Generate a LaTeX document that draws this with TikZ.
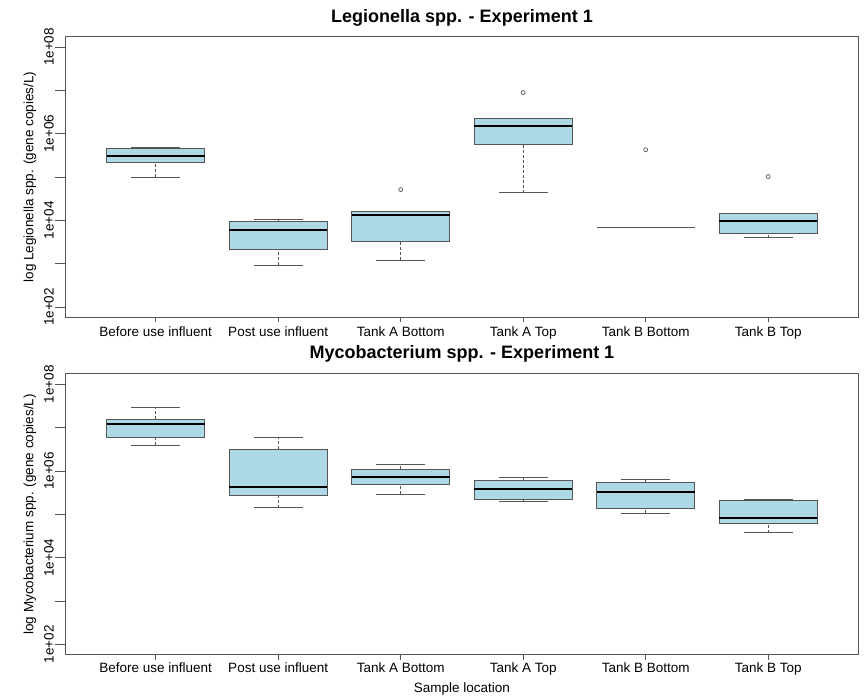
\documentclass[tikz,border=0pt]{standalone}
\usepackage{fontspec}
\setmainfont{Liberation Sans}
\usepackage{tikz}
\usetikzlibrary{positioning}
\definecolor{boxblue}{HTML}{ADD8E6}
\definecolor{axisgray}{RGB}{85,85,85}

\tikzset{
  plotframe/.style={draw=axisgray, line width=1pt},
  whisk/.style={draw=axisgray, line width=0.8pt, dash pattern=on 3pt off 2pt},
  capline/.style={draw=axisgray, line width=0.9pt},
  boxfill/.style={fill=boxblue, draw=axisgray, line width=1pt},
  medline/.style={draw=black, line width=2.4pt},
  outpt/.style={draw=axisgray, line width=0.7pt},
  ticklab/.style={font=\fontsize{13.5}{15}\selectfont, inner sep=0pt},
  ttl/.style={font=\fontsize{18}{20}\selectfont\bfseries, inner sep=0pt}
}

\begin{document}
\begin{tikzpicture}[x=1pt,y=1pt]
    \useasboundingbox (0,0) rectangle (864,698);

    % TOP: Legionella
    \begin{scope}[shift={(33.15pt,304.33pt)}, x=122.5pt, y=43.33pt]
        \draw[plotframe] (0.26,1.76) rectangle (6.74,8.24);
        % Axis ticks
        \foreach \dec in {2,...,8} {
            \draw[capline] (0.26,\dec) -- ++(-10pt,0);
        }
        \foreach \dec in {2,4,6,8} {
            \node[ticklab, rotate=90] (leg-y\dec) at ([xshift=-16pt]0.26,\dec) {1e+0\dec};
        }
        \foreach \pos/\lab in {1/Before use influent, 2/Post use influent, 3/Tank A Bottom, 4/Tank A Top, 5/Tank B Bottom, 6/Tank B Top} {
            \draw[capline] (\pos,1.76) -- ++(0,-5pt);
            \node[ticklab, anchor=base] (leg-x\pos) at ([yshift=-19pt]\pos,1.76) {\lab};
        }
        % Boxes (lower, q1, median, q3, upper)
        \foreach \pos/\lw/\qa/\md/\qb/\uw in {1/4.99/5.33/5.49/5.66/5.69, 2/2.96/3.33/3.78/3.98/4.01, 3/3.08/3.52/4.13/4.21/4.21, 4/4.64/5.74/6.18/6.35/6.35, 6/3.60/3.70/3.99/4.16/4.16} {
            \draw[whisk] (\pos,\lw) -- (\pos,\qa) (\pos,\qb) -- (\pos,\uw);
            \draw[capline] (\pos-0.2,\lw) -- (\pos+0.2,\lw) (\pos-0.2,\uw) -- (\pos+0.2,\uw);
            \filldraw[boxfill] (\pos-0.4,\qa) rectangle (\pos+0.4,\qb);
            \draw[medline] (\pos-0.4,\md) -- (\pos+0.4,\md);
        }
        \draw[capline] (4.6,3.84) -- (5.4,3.84); % flat box
        % Outliers
        \foreach \pos/\v in {3/4.71, 4/6.95, 5/5.63, 6/5.01} {
            \draw[outpt] (\pos,\v) circle (2pt);
        }
        \node[ttl, anchor=base] (leg-ttl) at ([yshift=14pt]3.5,8.24) {Legionella spp. - Experiment 1};
        \node[ticklab, rotate=90] (leg-ylab) at ([xshift=-35pt]0.26,5) {log Legionella spp. (gene copies/L)};
    \end{scope}

    % BOTTOM: Mycobacterium
    \begin{scope}[shift={(33.15pt,-32.97pt)}, x=122.5pt, y=43.33pt]
        \draw[plotframe] (0.26,1.76) rectangle (6.74,8.24);
        % Axis ticks
        \foreach \dec in {2,...,8} {
            \draw[capline] (0.26,\dec) -- ++(-10pt,0);
        }
        \foreach \dec in {2,4,6,8} {
            \node[ticklab, rotate=90] (myc-y\dec) at ([xshift=-16pt]0.26,\dec) {1e+0\dec};
        }
        \foreach \pos/\lab in {1/Before use influent, 2/Post use influent, 3/Tank A Bottom, 4/Tank A Top, 5/Tank B Bottom, 6/Tank B Top} {
            \draw[capline] (\pos,1.76) -- ++(0,-5pt);
            \node[ticklab, anchor=base] (myc-x\pos) at ([yshift=-18pt]\pos,1.76) {\lab};
        }
        % Boxes (lower, q1, median, q3, upper)
        \foreach \pos/\lw/\qa/\md/\qb/\uw in {1/6.59/6.77/7.09/7.19/7.47, 2/5.15/5.44/5.63/6.50/6.77, 3/5.47/5.68/5.86/6.04/6.16, 4/5.30/5.35/5.58/5.78/5.86, 5/5.03/5.14/5.51/5.73/5.81, 6/4.58/4.79/4.92/5.33/5.35} {
            \draw[whisk] (\pos,\lw) -- (\pos,\qa) (\pos,\qb) -- (\pos,\uw);
            \draw[capline] (\pos-0.2,\lw) -- (\pos+0.2,\lw) (\pos-0.2,\uw) -- (\pos+0.2,\uw);
            \filldraw[boxfill] (\pos-0.4,\qa) rectangle (\pos+0.4,\qb);
            \draw[medline] (\pos-0.4,\md) -- (\pos+0.4,\md);
        }
        \node[ttl, anchor=base] (myc-ttl) at ([yshift=15pt]3.5,8.24) {Mycobacterium spp. - Experiment 1};
        \node[ticklab, rotate=90] (myc-ylab) at ([xshift=-35pt]0.26,5) {log Mycobacterium spp. (gene copies/L)};
        \node[ticklab, anchor=base] (myc-xlab) at ([yshift=-38pt]3.5,1.76) {Sample location};
    \end{scope}
\end{tikzpicture}
\end{document}
